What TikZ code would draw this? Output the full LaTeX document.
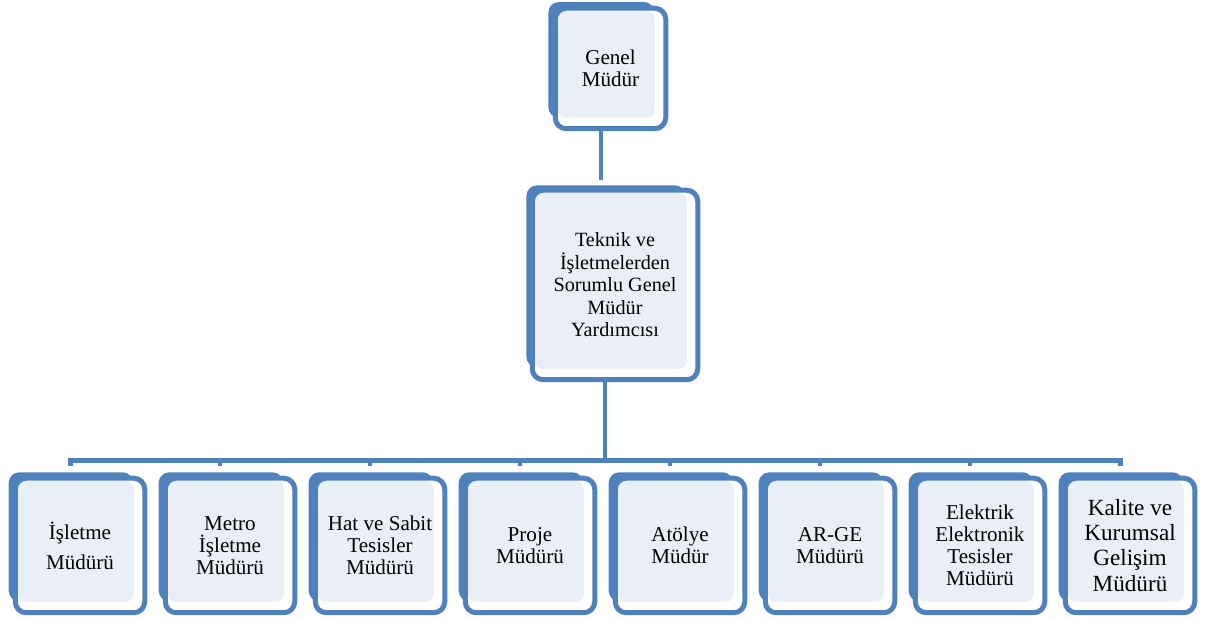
\documentclass[tikz,border=0pt]{standalone}
\usepackage{fontspec}
\setmainfont{Liberation Serif}
\usetikzlibrary{positioning, shadows}
\definecolor{unitblue}{RGB}{79,129,189}
\definecolor{unitfill}{RGB}{234,239,247}
\tikzset{node distance = 0.31cm}

\begin{document}
\begin{tikzpicture}[unit/.style={rectangle, rounded corners=0.22cm, draw=unitblue, line width=0.1cm, fill=white, align=center, font=\fontsize{12}{12.5}\selectfont,
    general shadow={fill=unitblue, shadow scale=0.96, shadow xshift=-0.19cm, shadow yshift=0.18cm},
    path picture={\fill[unitfill, rounded corners=0.16cm] ([xshift=0.05cm,yshift=-0.06cm]path picture bounding box.north west) rectangle ([xshift=-0.22cm,yshift=0.22cm]path picture bounding box.south east);}},
  office/.style={unit, minimum width=2.59cm, minimum height=2.69cm},
  link/.style={draw=unitblue, line width=0.09cm},
  bar/.style={draw=unitblue, line width=0.1cm}]
    \useasboundingbox (0,0) rectangle (24.32,12.42);

    \node[unit, minimum width=2.21cm, minimum height=2.41cm] (genel) at (12.21,11.05) {Genel\\Müdür};
    \node[unit, minimum width=3.31cm, minimum height=3.79cm, font=\fontsize{11.5}{12.8}\selectfont] (yard) at (12.30,6.72) {Teknik ve\\İşletmelerden\\Sorumlu Genel\\Müdür\\Yardımcısı};

    \node[office] (m1) at (1.60,1.51) {İşletme\\[0.16cm]Müdürü};
    \node[office, right=of m1] (m2) {Metro\\İşletme\\Müdürü};
    \node[office, right=of m2] (m3) {Hat ve Sabit\\Tesisler\\Müdürü};
    \node[office, right=of m3] (m4) {Proje\\Müdürü};
    \node[office, right=of m4] (m5) {Atölye\\Müdür};
    \node[office, right=of m5] (m6) {AR-GE\\Müdürü};
    \node[office, right=of m6] (m7) {Elektrik\\Elektronik\\Tesisler\\Müdürü};
    \node[office, right=of m7, font=\fontsize{13.2}{14.3}\selectfont] (m8) {Kalite ve\\Kurumsal\\Gelişim\\Müdürü};

    % connectors
    \coordinate[above=0.16cm of yard.north] (ytop);
    \draw[link] ([xshift=-0.19cm]genel.south) coordinate (g1) -- (g1 |- ytop);
    \coordinate[below=1.56cm of yard.south, xshift=-0.2cm] (hub);
    \draw[link] ([xshift=-0.2cm]yard.south) -- (hub);
    \draw[bar] ([xshift=-0.2cm,yshift=0.2cm]m1.north) |- (hub) -| ([xshift=-0.2cm,yshift=0.2cm]m8.north);
    \foreach \i in {2,...,7}
      \draw[link] ([xshift=-0.2cm,yshift=0.2cm]m\i.north) -- ([xshift=-0.2cm]m\i.north |- hub);
\end{tikzpicture}
\end{document}
